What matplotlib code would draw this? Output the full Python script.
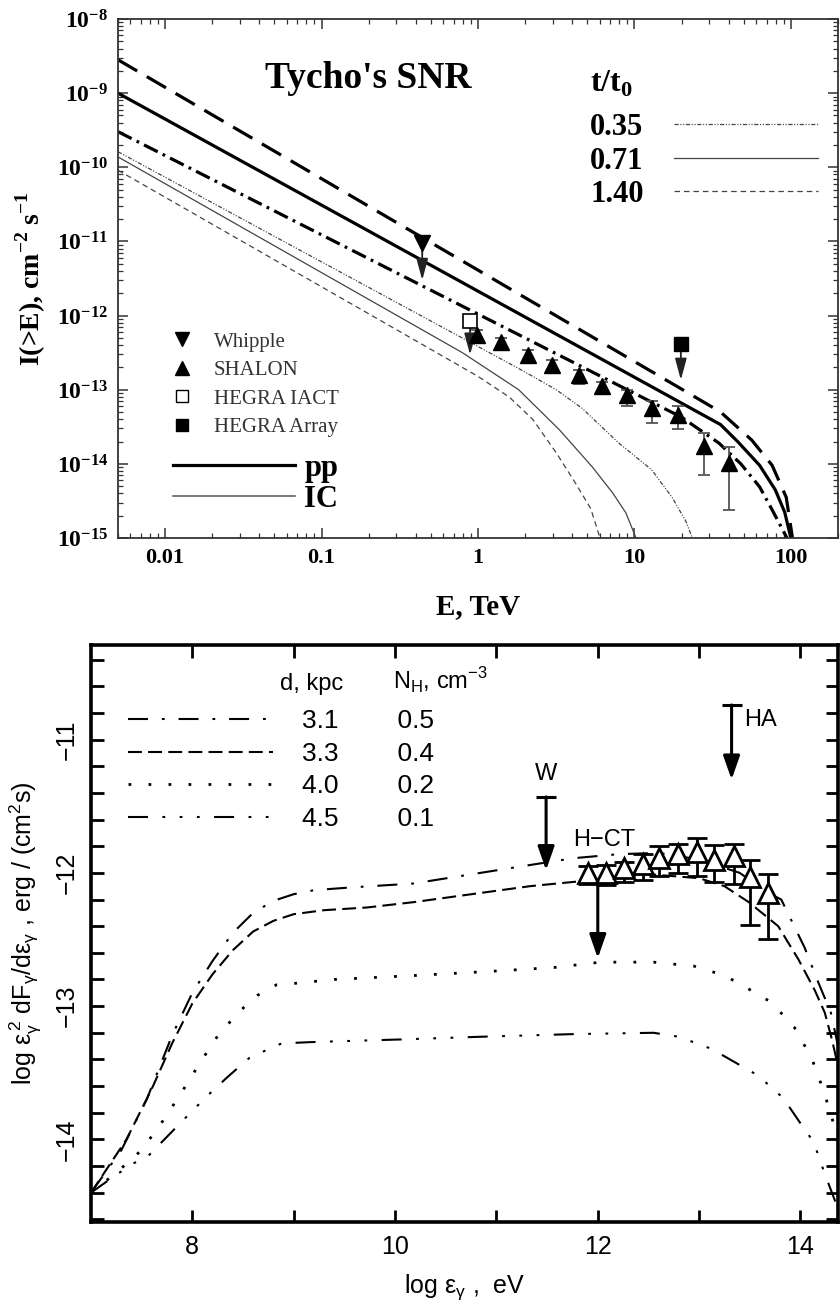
import numpy as np
import matplotlib
matplotlib.use("Agg")
import matplotlib.pyplot as plt
from matplotlib.lines import Line2D
from matplotlib.ticker import LogLocator, NullFormatter

plt.rcParams['mathtext.fontset'] = 'custom'
plt.rcParams['mathtext.rm'] = 'Liberation Serif:bold'
plt.rcParams['mathtext.bf'] = 'Liberation Serif:bold'
plt.rcParams['mathtext.sf'] = 'Liberation Sans'
plt.rcParams['lines.scale_dashes'] = False

# ---------------- top panel: Tycho's SNR integral spectra ----------------
# model curves as log10(E / TeV) and log10(I / cm^-2 s^-1)
pp035_logE = [-2.301, 1.3, 1.54, 1.68, 1.8, 1.88, 1.975]
pp035_logI = [-9.52, -13.37, -13.72, -14.0, -14.31, -14.62, -15.0]
pp071_logE = [-2.301, 1.55, 1.66, 1.8, 1.9, 1.96, 2.0]
pp071_logI = [-9.0, -13.47, -13.7, -14.02, -14.35, -14.65, -15.0]
pp140_logE = [-2.301, 1.3, 1.55, 1.75, 1.88, 1.97, 2.01]
pp140_logI = [-8.55, -12.99, -13.30, -13.68, -14.02, -14.45, -15.0]
ic035_logE = [-2.301, 0.3, 0.5, 0.665, 0.9, 1.11, 1.24, 1.33, 1.37]
ic035_logI = [-9.79, -12.76, -13.0, -13.25, -13.72, -14.08, -14.45, -14.78, -15.0]
ic071_logE = [-2.301, -0.1, 0.26, 0.52, 0.73, 0.86, 0.945, 1.01]
ic071_logI = [-9.86, -12.5, -13.0, -13.54, -14.04, -14.39, -14.66, -15.0]
ic140_logE = [-2.301, 0.0, 0.2, 0.35, 0.5, 0.62, 0.72, 0.78]
ic140_logI = [-10.04, -12.82, -13.1, -13.4, -13.85, -14.25, -14.6, -15.0]

whipple_E = [0.44]
whipple_I = [9.5e-12]
whipple_tip = [3.0e-12]
shalon_E = [0.99, 1.4, 2.09, 2.97, 4.4, 6.2, 9.0, 12.9, 19.0, 27.8, 40.0]
shalon_I = [5.5e-13, 4.37e-13, 2.95e-13, 2.14e-13, 1.58e-13, 1.12e-13,
            8.5e-14, 5.6e-14, 4.6e-14, 1.74e-14, 1.02e-14]
shalon_lo = [4.7e-13, 3.55e-13, 2.35e-13, 1.66e-13, 1.2e-13, 8.7e-14,
             6.0e-14, 3.55e-14, 2.95e-14, 7.1e-15, 2.4e-15]
shalon_hi = [6.3e-13, 5.0e-13, 3.4e-13, 2.5e-13, 1.82e-13, 1.29e-13,
             1.0e-13, 7.1e-14, 6.0e-14, 2.63e-14, 1.7e-14]
iact_E = [0.89]
iact_I = [8.5e-13]
iact_tip = [2.95e-13]
array_E = [19.8]
array_I = [4.2e-13]
array_tip = [1.35e-13]

top_xticks = [0.01, 0.1, 1, 10, 100]
top_xticklabels = ['0.01', '0.1', '1', '10', '100']
top_yexp = [-15, -14, -13, -12, -11, -10, -9, -8]
t_labels = ['0.35', '0.71', '1.40']
marker_labels = ['Whipple', 'SHALON', 'HEGRA IACT', 'HEGRA Array']
proc_labels = ['pp', 'IC']

# ---------------- bottom panel: log eps^2 dF/deps ----------------
d_labels = ['3.1', '3.3', '4.0', '4.5']
nh_labels = ['0.5', '0.4', '0.2', '0.1']
x31 = [7.0, 7.3, 7.55, 7.8, 8.0, 8.2, 8.4, 8.6, 8.8, 9.0, 9.2, 9.55,
       10.18, 11.34, 11.76, 12.2, 12.6, 13.0, 13.4, 13.68, 13.81, 14.04, 14.18, 14.3, 14.37]
y31 = [-14.40, -14.08, -13.70, -13.22, -12.90, -12.66, -12.45, -12.30, -12.21, -12.16,
       -12.13, -12.11, -12.08, -11.94, -11.89, -11.86, -11.85, -11.90,
       -12.00, -12.15, -12.20, -12.56, -12.83, -13.05, -13.30]
x33 = [7.0, 7.35, 7.6, 7.8, 8.0, 8.2, 8.4, 8.6, 8.8, 9.0, 9.3, 9.72, 10.18, 11.33,
       12.0, 12.5, 13.0, 13.25, 13.49, 13.78, 13.98, 14.14, 14.24, 14.31, 14.37]
y33 = [-14.40, -14.00, -13.62, -13.28, -12.98, -12.76, -12.58, -12.44, -12.36, -12.31,
       -12.28, -12.26, -12.22, -12.10, -12.05, -12.01, -12.04, -12.10, -12.22, -12.40,
       -12.65, -12.88, -13.05, -13.25, -13.45]
x40 = [7.0, 7.25, 7.5, 7.72, 7.9, 8.08, 8.27, 8.52, 8.64, 8.83, 9.0, 9.4, 10.2, 10.92,
       11.57, 12.03, 12.55, 12.95, 13.25, 13.44, 13.71, 13.94, 14.11, 14.23, 14.33, 14.37]
y40 = [-14.40, -14.25, -14.08, -13.85, -13.64, -13.42, -13.20, -13.00, -12.92, -12.84,
       -12.83, -12.80, -12.77, -12.74, -12.71, -12.67, -12.67, -12.70, -12.77, -12.85,
       -12.97, -13.16, -13.39, -13.64, -13.89, -14.05]
x45 = [7.0, 7.26, 7.42, 7.57, 7.75, 7.93, 8.06, 8.18, 8.35, 8.56, 8.73, 8.88, 9.17, 10.06,
       10.84, 11.76, 12.55, 12.8, 13.12, 13.35, 13.58, 13.83, 14.0, 14.13, 14.24, 14.36]
y45 = [-14.40, -14.26, -14.18, -14.12, -13.98, -13.84, -13.74, -13.65, -13.53, -13.39,
       -13.33, -13.28, -13.27, -13.25, -13.23, -13.21, -13.20, -13.23, -13.32, -13.42,
       -13.52, -13.69, -13.88, -14.02, -14.26, -14.50]

hct_x = [11.9, 12.08, 12.26, 12.45, 12.6, 12.79, 12.98, 13.15, 13.34, 13.5, 13.68]
hct_y = [-12.0, -12.0, -11.96, -11.93, -11.89, -11.86, -11.84, -11.9, -11.87, -12.03, -12.15]
hct_lo = [-12.08, -12.09, -12.07, -12.05, -12.02, -12.0, -12.02, -12.07, -12.08, -12.39, -12.5]
hct_hi = [-11.95, -11.94, -11.92, -11.86, -11.80, -11.78, -11.74, -11.79, -11.78, -11.90, -12.01]

ul_names = ['W', 'HA', 'H\u2212CT']
ul_x = [11.49, 13.32, 12.0]
ul_top = [-11.43, -10.74, -12.05]
ul_tip = [-11.98, -11.30, -12.64]
ul_cap = [True, True, False]

bot_xticks = [8, 10, 12, 14]
bot_xminor = [9, 11, 13]
bot_yticks = [-14, -13, -12, -11]

# ---------------- figure ----------------
W, H = 840, 1306
fig = plt.figure(figsize=(W / 100, H / 100), dpi=100)


def rect(l, t, r, b):
    return [l / W, 1 - b / H, (r - l) / W, (b - t) / H]


ax1 = fig.add_axes(rect(118, 19, 838, 538))
ax2 = fig.add_axes(rect(91, 645, 838, 1222))

SERIF = 'Liberation Serif'
SANS = 'Liberation Sans'

# ======== top panel ========
ax1.set_xscale('log')
ax1.set_yscale('log')
thick = dict(color='k', lw=2.3)
thin = dict(color='#444444', lw=0.9)
dash_pp140 = (16, 8)
dash_pp035 = (11, 4, 2, 4)
dash_ic035 = (3, 1.2, 0.8, 1.2, 0.8, 1.2)
dash_ic140 = (4, 2.8)


def lg(a):
    return 10.0 ** np.asarray(a)


ax1.plot(lg(pp140_logE), lg(pp140_logI), dashes=dash_pp140, **thick)
ax1.plot(lg(pp071_logE), lg(pp071_logI), **thick)
ax1.plot(lg(pp035_logE), lg(pp035_logI), dashes=dash_pp035, **thick)
ax1.plot(lg(ic035_logE), lg(ic035_logI), dashes=dash_ic035, **thin)
ax1.plot(lg(ic071_logE), lg(ic071_logI), **thin)
ax1.plot(lg(ic140_logE), lg(ic140_logI), dashes=dash_ic140, **thin)

arrow_top = dict(arrowstyle='-|>,head_length=1.3,head_width=0.35', color='#222222',
                 lw=1.3, shrinkA=0, shrinkB=0, mutation_scale=10)
for E, I0, I1 in zip(whipple_E, whipple_I, whipple_tip):
    ax1.annotate('', xy=(E, I1), xytext=(E, I0), arrowprops=arrow_top, zorder=4)
for E, I0, I1 in zip(iact_E, iact_I, iact_tip):
    ax1.annotate('', xy=(E, I1), xytext=(E, I0), arrowprops=arrow_top, zorder=4)
for E, I0, I1 in zip(array_E, array_I, array_tip):
    ax1.annotate('', xy=(E, I1), xytext=(E, I0), arrowprops=arrow_top, zorder=4)

ax1.plot(whipple_E, whipple_I, 'v', color='k', ms=12, zorder=5)
ax1.plot(iact_E, iact_I, 's', mfc='white', mec='k', mew=1.2, ms=10, zorder=5)
ax1.plot(array_E, array_I, 's', color='k', ms=10, zorder=5)
sI = np.array(shalon_I)
ax1.errorbar(shalon_E, shalon_I, yerr=[sI - np.array(shalon_lo), np.array(shalon_hi) - sI],
             fmt='^', color='k', ms=12, ecolor='#555555', elinewidth=1.3, capsize=4,
             capthick=1.3, zorder=5)

ax1.set_xticks(top_xticks, labels=top_xticklabels, fontsize=16, fontfamily=SERIF,
               fontweight='bold')
ax1.set_yticks([10.0 ** k for k in top_yexp],
               labels=[r'$\mathbf{10^{%d}}$' % k for k in top_yexp], fontsize=17)
ax1.xaxis.set_minor_locator(LogLocator(base=10, subs=np.arange(2, 10) * 1.0, numticks=30))
ax1.yaxis.set_minor_locator(LogLocator(base=10, subs=np.arange(2, 10) * 1.0, numticks=30))
ax1.xaxis.set_minor_formatter(NullFormatter())
ax1.yaxis.set_minor_formatter(NullFormatter())
ax1.set_xlim(0.005, 200)
ax1.set_ylim(1e-15, 1e-8)
ax1.tick_params(which='both', direction='in', top=True, right=True, color='#333333')
ax1.tick_params(which='major', length=7, width=1.1, pad=7)
ax1.tick_params(which='minor', length=3.5, width=0.9)
for s in ax1.spines.values():
    s.set_linewidth(1.3)
    s.set_color('#333333')

ax1.set_xlabel('E, TeV', fontsize=21, fontfamily=SERIF, fontweight='bold', labelpad=18)
ax1.set_ylabel(r'I(>E), cm$^{\mathbf{-2}}$ s$^{\mathbf{-1}}$', fontsize=20,
               fontfamily=SERIF, fontweight='bold', labelpad=6)

ax1.text(0.204, 0.867, "Tycho's SNR", transform=ax1.transAxes, fontsize=27,
         fontfamily=SERIF, fontweight='bold', va='baseline')
ax1.text(0.6556, 0.8593, r't/t$_{\mathbf{0}}$', transform=ax1.transAxes, fontsize=23,
         fontfamily=SERIF, fontweight='bold', va='baseline')

hC = [Line2D([], [], dashes=dash_ic035, **thin), Line2D([], [], **thin),
      Line2D([], [], dashes=dash_ic140, **thin)]
legC = ax1.legend(hC, t_labels, loc='upper left', bbox_to_anchor=(0.6556, 0.819),
                  markerfirst=False, frameon=False,
                  prop=dict(family=SERIF, weight='bold', size=22),
                  handlelength=4.7, handletextpad=1.0, labelspacing=0.15,
                  borderpad=0, borderaxespad=0)
ax1.add_artist(legC)

hA = [Line2D([], [], marker='v', ls='none', color='k', ms=10),
      Line2D([], [], marker='^', ls='none', color='k', ms=10),
      Line2D([], [], marker='s', ls='none', mfc='white', mec='k', ms=8),
      Line2D([], [], marker='s', ls='none', color='k', ms=8)]
legA = ax1.legend(hA, marker_labels, loc='upper left', bbox_to_anchor=(0.075, 0.397),
                  frameon=False, prop=dict(family=SERIF, size=15),
                  labelcolor='#333333', handlelength=1.0, handletextpad=1.0,
                  labelspacing=0.43, borderpad=0, borderaxespad=0)
ax1.add_artist(legA)

hB = [Line2D([], [], color='k', lw=2.3), Line2D([], [], color='#555555', lw=1.1)]
legB = ax1.legend(hB, proc_labels, loc='upper left', bbox_to_anchor=(0.0764, 0.162),
                  frameon=False, prop=dict(family=SERIF, weight='bold', size=22),
                  handlelength=4.0, handletextpad=0.3, labelspacing=0.07,
                  borderpad=0, borderaxespad=0)

# ======== bottom panel ========
lw_b = 1.5
st31 = dict(color='k', lw=lw_b, dashes=(14.4, 10, 2, 10))
st33 = dict(color='k', lw=lw_b, dashes=(10, 4.5))
st40 = dict(color='k', lw=2.0, dashes=(2, 12.4))
st45 = dict(color='k', lw=lw_b, dashes=(14.4, 10.4, 2, 10.4, 2, 10.4, 2, 10.4))
ax2.plot(x31, y31, **st31)
ax2.plot(x33, y33, **st33)
ax2.plot(x40, y40, **st40)
ax2.plot(x45, y45, **st45)

hy = np.array(hct_y)
ax2.errorbar(hct_x, hct_y, yerr=[hy - np.array(hct_lo), np.array(hct_hi) - hy],
             fmt='^', ms=15, mfc='white', mec='k', mew=2.0, ecolor='k',
             elinewidth=2.0, capsize=7, capthick=2.0, zorder=5)

arrow_bot = dict(arrowstyle='-|>,head_length=1.2,head_width=0.42', color='k', lw=2.2,
                 shrinkA=0, shrinkB=0, mutation_scale=12)
for x, y0, y1, cap in zip(ul_x, ul_top, ul_tip, ul_cap):
    ax2.annotate('', xy=(x, y1), xytext=(x, y0), arrowprops=arrow_bot, zorder=6)
    if cap:
        ax2.plot([x], [y0], marker='_', color='k', ms=14, mew=2.2, zorder=6)

txt_b = dict(fontsize=17, fontfamily=SANS)
ax2.text(11.49, -11.26, ul_names[0], ha='center', va='center', **txt_b)
ax2.text(13.44, -10.85, ul_names[1], ha='left', va='center', **txt_b)
ax2.text(11.76, -11.75, ul_names[2], ha='left', va='center', **txt_b)

ax2.set_xlim(7, 14.37)
ax2.set_ylim(-14.62, -10.29)
ax2.set_xticks(bot_xticks, labels=[str(v) for v in bot_xticks], fontsize=18, fontfamily=SANS)
ax2.set_xticks(bot_xminor, minor=True)
ax2.set_yticks(bot_yticks, labels=['\u2212%d' % abs(v) for v in bot_yticks], fontsize=18,
               fontfamily=SANS, rotation=90, va='center')
ymin_t = [v for v in np.round(np.arange(-14.6, -10.3, 0.2), 1) if abs(v - round(v)) > 0.05]
ax2.set_yticks(ymin_t, minor=True)
ax2.tick_params(which='both', direction='in', top=True, right=True, length=9, width=2.0)
ax2.tick_params(axis='x', which='major', pad=9)
ax2.tick_params(axis='y', which='major', pad=9)
for s in ax2.spines.values():
    s.set_linewidth(2.6)

ax2.set_xlabel(r'log $\mathsf{\epsilon_\gamma}$ ,  eV', fontsize=18, fontfamily=SANS,
               labelpad=10)
ax2.set_ylabel(r'log $\mathsf{\epsilon_\gamma^{\,2}\;dF_\gamma/d\epsilon_\gamma}$ , erg / (cm$^{\mathsf{2}}$s)',
               fontsize=18, fontfamily=SANS, labelpad=8)

ax2.text(0.253, 0.922, 'd, kpc', transform=ax2.transAxes, fontsize=17, fontfamily=SANS,
         va='baseline')
ax2.text(0.404, 0.922, r'N$_{\mathsf{H}}$, cm$^{\mathsf{-3}}$', transform=ax2.transAxes,
         fontsize=17, fontfamily=SANS, va='baseline')

hD = [Line2D([], [], **st31), Line2D([], [], **st33), Line2D([], [], **st40),
      Line2D([], [], **st45)]
labD = ['%s        %s' % (d, n) for d, n in zip(d_labels, nh_labels)]
ax2.legend(hD, labD, loc='upper left', bbox_to_anchor=(0.0495, 0.889), frameon=False,
           prop=dict(family=SANS, size=19), handlelength=5.5, handletextpad=1.1,
           labelspacing=0.33, borderpad=0, borderaxespad=0)

fig.savefig('out.png', dpi=100)
